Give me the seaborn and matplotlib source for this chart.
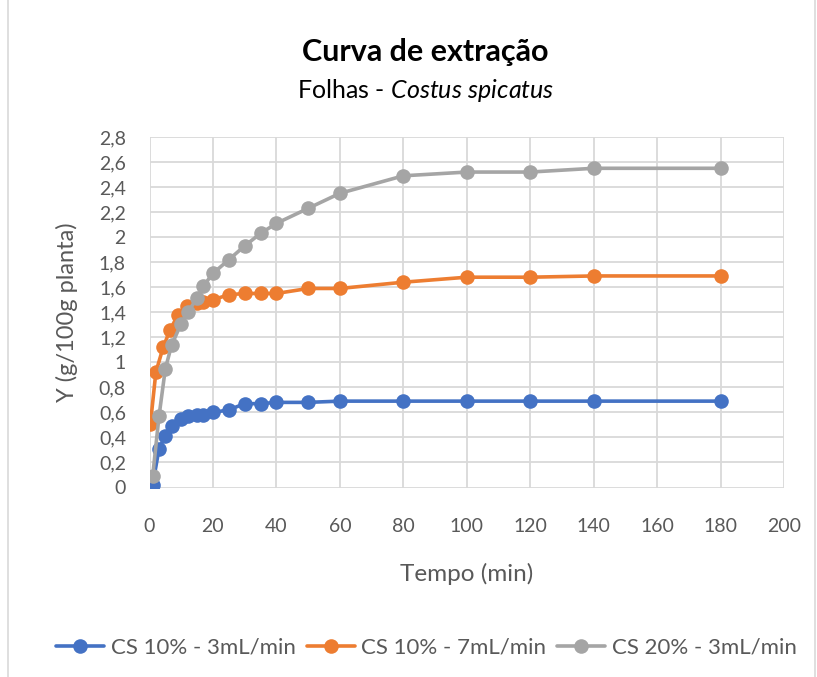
import matplotlib
matplotlib.use("Agg")
import matplotlib.pyplot as plt
from matplotlib.lines import Line2D
from matplotlib.patches import Rectangle
import seaborn as sns
import pandas as pd

# Extraction times (min) and yields Y (g/100g plant) for each run
tempo_cs10_3 = [1, 3, 5, 7, 10, 12, 15, 17, 20, 25, 30, 35, 40, 50, 60, 80, 100, 120, 140, 180]
y_cs10_3 = [0.02, 0.31, 0.41, 0.49, 0.55, 0.57, 0.58, 0.58, 0.60, 0.62, 0.67, 0.67, 0.68, 0.68,
            0.69, 0.69, 0.69, 0.69, 0.69, 0.69]

tempo_cs10_7 = [0.3, 2, 4.3, 6.5, 9, 11.7, 15, 17, 20, 25, 30, 35, 40, 50, 60, 80, 100, 120, 140, 180]
y_cs10_7 = [0.51, 0.92, 1.12, 1.26, 1.38, 1.45, 1.47, 1.48, 1.50, 1.54, 1.55, 1.55, 1.55, 1.59,
            1.59, 1.64, 1.68, 1.68, 1.69, 1.69]

tempo_cs20_3 = [1, 3, 5, 7, 10, 12, 15, 17, 20, 25, 30, 35, 40, 50, 60, 80, 100, 120, 140, 180]
y_cs20_3 = [0.09, 0.57, 0.95, 1.14, 1.31, 1.40, 1.51, 1.61, 1.71, 1.82, 1.93, 2.03, 2.11, 2.23,
            2.35, 2.49, 2.52, 2.52, 2.55, 2.55]

series_names = ["CS 10% - 3mL/min", "CS 10% - 7mL/min", "CS 20% - 3mL/min"]
series_colors = ["#4472C4", "#ED7D31", "#A5A5A5"]

x_ticks = [0, 20, 40, 60, 80, 100, 120, 140, 160, 180, 200]
y_ticks = [0, 0.2, 0.4, 0.6, 0.8, 1.0, 1.2, 1.4, 1.6, 1.8, 2.0, 2.2, 2.4, 2.6, 2.8]

frames = []
for name, t, y in zip(series_names,
                      [tempo_cs10_3, tempo_cs10_7, tempo_cs20_3],
                      [y_cs10_3, y_cs10_7, y_cs20_3]):
    frames.append(pd.DataFrame({"Tempo": t, "Y": y, "Serie": name}))
df = pd.concat(frames, ignore_index=True)

sns.set_theme(style="white")
plt.rcParams["font.family"] = ["Lato", "DejaVu Sans"]
plt.rcParams["mathtext.fontset"] = "custom"
plt.rcParams["mathtext.it"] = "Lato:italic"
plt.rcParams["mathtext.rm"] = "Lato"

fig = plt.figure(figsize=(8.17, 6.77), dpi=100)
ax = fig.add_axes([149.5 / 817, 1 - 487.5 / 677, (784 - 149.5) / 817, (487.5 - 137) / 677])

sns.lineplot(data=df, x="Tempo", y="Y", hue="Serie", hue_order=series_names,
             palette=series_colors, marker="o", markersize=10.5, markeredgewidth=0,
             linewidth=2.6, sort=False, legend=False, ax=ax, zorder=3)

ax.set_xlim(0, 200)
ax.set_ylim(0, 2.8)
ax.set_xticks(x_ticks)
ax.set_yticks(y_ticks)
ax.set_xticklabels([str(v) for v in x_ticks])
ax.set_yticklabels([("%g" % v).replace(".", ",") for v in y_ticks])
ax.grid(True, color="#D9D9D9", linewidth=1.3, zorder=0)
ax.set_axisbelow(True)
for s in ax.spines.values():
    s.set_visible(False)
ax.tick_params(axis="x", length=0, pad=22, labelsize=14, labelcolor="#595959")
ax.tick_params(axis="y", length=0, pad=17, labelsize=14, labelcolor="#595959")

ax.set_xlabel("Tempo (min)", fontsize=17.5, color="#595959", labelpad=20)
ax.set_ylabel("Y (g/100g planta)", fontsize=17, color="#595959", labelpad=15)

fig.text(0.521, 1 - 52 / 677, "Curva de extração", ha="center", va="center",
         fontsize=22, fontweight="bold", color="black")
fig.text(0.5205, 1 - 90 / 677, "Folhas - $\\mathit{Costus\\ spicatus}$", ha="center", va="center",
         fontsize=18, color="black")

handles = [Line2D([0], [0], color=c, linewidth=2.6, marker="o", markersize=10.5,
                  markeredgewidth=0) for c in series_colors]
fig.legend(handles, series_names, loc="center", bbox_to_anchor=(0.522, 1 - 648 / 677),
           ncol=3, frameon=False, fontsize=16, labelcolor="#595959",
           handlelength=2.15, handletextpad=0.3, columnspacing=0.5)

fig.patches.append(Rectangle((8 / 817, -0.01), (815 - 8) / 817, 1.02,
                             transform=fig.transFigure, fill=False,
                             edgecolor="#D9D9D9", linewidth=1.2))

fig.savefig("out.png", dpi=100)
